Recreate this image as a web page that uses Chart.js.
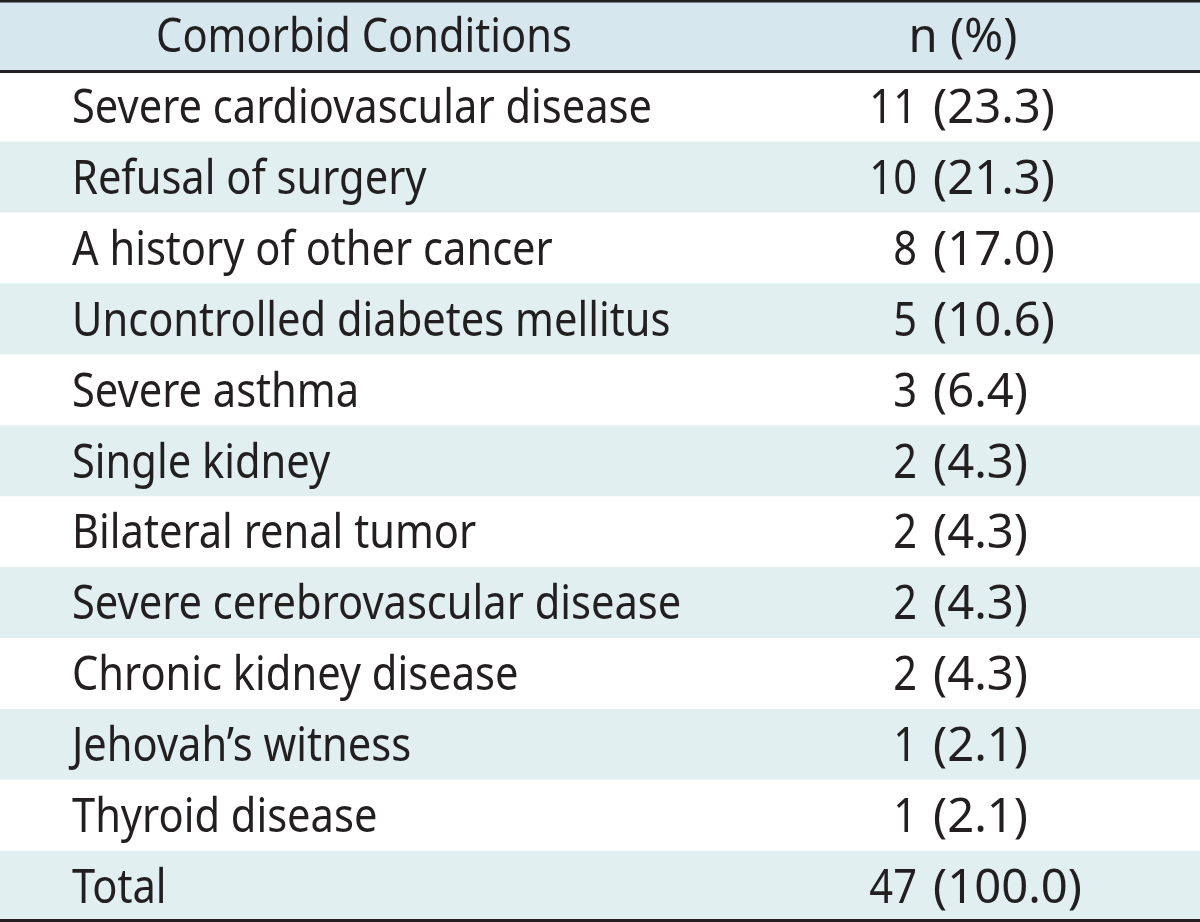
<!DOCTYPE html>
<html>
<head>
<meta charset="utf-8">
<script src="https://cdn.jsdelivr.net/npm/chart.js@4"></script>
<style>
  html, body { margin: 0; padding: 0; background: #fff; }
  #wrap { width: 1200px; height: 922px; position: relative; }
</style>
</head>
<body>
<div id="wrap"><canvas id="myChart"></canvas></div>
<script>
// table content
var headers = ['Comorbid Conditions', 'n (%)'];
var conditions = [
  'Severe cardiovascular disease',
  'Refusal of surgery',
  'A history of other cancer',
  'Uncontrolled diabetes mellitus',
  'Severe asthma',
  'Single kidney',
  'Bilateral renal tumor',
  'Severe cerebrovascular disease',
  'Chronic kidney disease',
  'Jehovah\u2019s witness',
  'Thyroid disease',
  'Total'
];
var counts = [11, 10, 8, 5, 3, 2, 2, 2, 2, 1, 1, 47];
var percents = ['23.3', '21.3', '17.0', '10.6', '6.4', '4.3', '4.3', '4.3', '4.3', '2.1', '2.1', '100.0'];

document.addEventListener('DOMContentLoaded', function () {
  var ctx = document.getElementById('myChart').getContext('2d');

  var rowLabels = [headers[0]].concat(conditions);
  var FONT = '48px "Noto Sans"';
  var INK = '#231f20';

  // row stripes: header darker blue, then white / light blue alternating
  var stripeColors = rowLabels.map(function (l, i) {
    if (i === 0) return '#d6e8ee';
    return i % 2 === 0 ? '#e1eff1' : '#ffffff';
  });

  var tablePlugin = {
    id: 'tableText',
    afterDatasetsDraw: function (chart) {
      var c = chart.ctx;
      var area = chart.chartArea;
      var yScale = chart.scales.y;
      c.save();
      c.font = FONT;
      c.fillStyle = INK;
      c.textBaseline = 'alphabetic';
      // the original typeface is condensed for letters, wider for figures
      var sx = 580 / c.measureText(conditions[0]).width;
      var sxNum = 122 / c.measureText('(23.3)').width;

      function text(str, x, y, align, s) {
        c.save();
        c.translate(x, y);
        c.scale(s, 1);
        c.textAlign = align;
        c.fillText(str, 0, 0);
        c.restore();
      }

      rowLabels.forEach(function (label, i) {
        var y = yScale.getPixelForValue(i) + 16.5;
        if (i === 0) {
          text(headers[0], 364, y, 'center', sx);
          text(headers[1], 963, y, 'center', sxNum);
        } else {
          text(label, 72, y, 'left', sx);
          text(String(counts[i - 1]), 917, y, 'right', sx);
          text('(' + percents[i - 1] + ')', 933, y, 'left', sxNum);
        }
      });

      // rules: top, under header, bottom
      c.strokeStyle = INK;
      var headLine = (yScale.getPixelForValue(0) + yScale.getPixelForValue(1)) / 2;
      [[area.top + 1.25, 2.5], [headLine + 0.5, 3], [area.bottom - 1.5, 3]].forEach(function (l) {
        c.lineWidth = l[1];
        c.beginPath();
        c.moveTo(area.left, l[0]);
        c.lineTo(area.right, l[0]);
        c.stroke();
      });
      c.restore();
    }
  };

  var myChart = new Chart(ctx, {
    type: 'bar',
    data: {
      labels: rowLabels,
      datasets: [{
        data: rowLabels.map(function () { return [0, 1]; }),
        backgroundColor: stripeColors,
        borderWidth: 0,
        barPercentage: 1,
        categoryPercentage: 1
      }]
    },
    options: {
      indexAxis: 'y',
      responsive: true,
      maintainAspectRatio: false,
      animation: false,
      layout: { padding: 0 },
      plugins: {
        legend: { display: false },
        tooltip: { enabled: false }
      },
      scales: {
        x: { display: false, min: 0, max: 1 },
        y: { display: false, offset: true }
      }
    },
    plugins: [tablePlugin]
  });
});
</script>
</body>
</html>
